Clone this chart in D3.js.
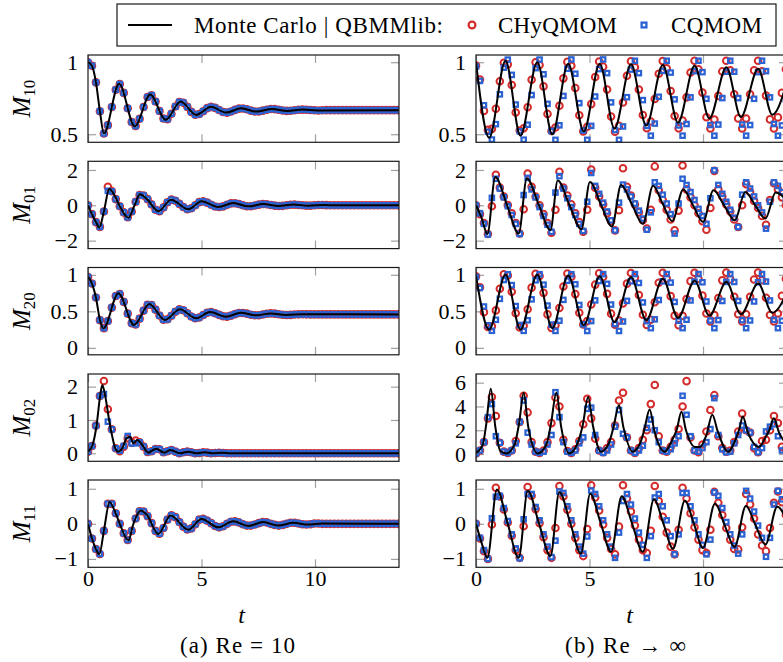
<!DOCTYPE html>
<html><head><meta charset="utf-8">
<script src="https://cdn.jsdelivr.net/npm/d3@7"></script>
<style>body{margin:0;background:#fff}svg{display:block}</style>
</head><body>
<svg id="chart" width="783" height="662"></svg>
<script>
// ---------- DATA ----------
const rowLabels = ['10','01','20','02','11'];
const xTicks = [0,5,10];
const legendLabels = ['Monte Carlo | QBMMlib:', 'CHyQMOM', 'CQMOM'];
const captions = ['(a) Re = 10', '(b) Re \u2192 \u221E'];

// sample times of the QBMMlib markers
const T = [0,0.175,0.35,0.525,0.7,0.875,1.05,1.225,1.4,1.575,1.75,1.925,2.1,2.275,2.45,2.625,2.8,2.975,3.15,3.325,3.5,3.675,3.85,4.025,4.2,4.375,4.55,4.725,4.9,5.075,5.25,5.425,5.6,5.775,5.95,6.125,6.3,6.475,6.65,6.825,7.0,7.175,7.35,7.525,7.7,7.875,8.05,8.225,8.4,8.575,8.75,8.925,9.1,9.275,9.45,9.625,9.8,9.975,10.15,10.325,10.5,10.675,10.85,11.025,11.2,11.375,11.55,11.725,11.9,12.075,12.25,12.425,12.6,12.775,12.95,13.125,13.3,13.475,13.65];

// ---- (a) Re = 10 : Monte Carlo key points ----
const mcA_M10_t = [0,0.175,0.35,0.525,0.7,1.37,2.06,2.74,3.42,4.08,4.76,5.42,6.08,6.75,7.42,8.1,8.78,9.45,10.1,13.7];
const mcA_M10_v = [1.0,0.975,0.86,0.66,0.505,0.85,0.555,0.775,0.60,0.727,0.634,0.69,0.65,0.68,0.657,0.675,0.662,0.671,0.665,0.667];
const mcA_M01_t = [0,0.175,0.35,0.5,0.7,0.94,1.15,1.4,1.78,2.05,2.29,2.6,3.1,3.66,4.42,5.0,5.74,6.4,7.06,7.72,8.38,9.05,9.7,10.4,11.0,13.7];
const mcA_M01_v = [0,-0.5,-0.95,-1.25,-0.35,0.94,0.6,-0.05,-0.7,0.0,0.62,0.35,-0.34,0.32,-0.23,0.23,-0.1,0.13,-0.06,0.075,-0.04,0.04,-0.02,0.02,0,0];
const mcA_M20_t = [0,0.175,0.35,0.525,0.68,1.34,2.03,2.7,3.39,4.05,4.76,5.37,6.08,6.73,7.4,8.05,8.72,9.45,13.7];
const mcA_M20_v = [0.975,0.88,0.69,0.38,0.266,0.748,0.312,0.60,0.38,0.528,0.404,0.49,0.427,0.48,0.445,0.472,0.45,0.46,0.458];
const mcA_M02_t = [0,0.2,0.38,0.53,0.63,0.75,0.93,1.07,1.22,1.34,1.51,1.7,1.85,2.0,2.17,2.39,2.65,3.0,3.35,3.64,4.05,4.42,4.79,5.15,5.5,5.9,6.3,13.7];
const mcA_M02_v = [0.05,0.25,0.85,1.7,2.05,1.75,1.0,0.5,0.12,0.05,0.15,0.45,0.5,0.3,0.4,0.25,0.02,0.14,0.02,0.1,0.0,0.05,0.0,0.03,0.0,0.015,0.0,0.0];
const mcA_M11_t = [0,0.175,0.35,0.5,0.7,0.95,1.2,1.4,1.78,2.0,2.32,2.6,3.1,3.64,4.42,5.0,5.74,6.4,7.06,7.72,8.38,9.05,9.7,10.3,13.7];
const mcA_M11_v = [0,-0.42,-0.72,-0.87,-0.2,0.62,0.33,0.0,-0.47,0.0,0.38,0.25,-0.29,0.24,-0.17,0.14,-0.1,0.07,-0.06,0.05,-0.05,0.03,-0.02,0.01,0];

// ---- (a) Re = 10 : QBMMlib markers (at times T) ----
const chyA_M10 = [1.0,0.975,0.86,0.66,0.505,0.563,0.689,0.809,0.848,0.787,0.68,0.585,0.557,0.607,0.689,0.758,0.771,0.727,0.661,0.609,0.605,0.642,0.692,0.724,0.719,0.69,0.655,0.635,0.64,0.66,0.681,0.69,0.683,0.668,0.654,0.65,0.658,0.669,0.678,0.679,0.673,0.664,0.658,0.658,0.664,0.67,0.675,0.674,0.67,0.665,0.662,0.663,0.666,0.67,0.671,0.67,0.668,0.666,0.665,0.666,0.667,0.667,0.667,0.667,0.667,0.667,0.667,0.667,0.667,0.667,0.667,0.667,0.667,0.667,0.667,0.667,0.667,0.667,0.667];
const cqA_M10 = chyA_M10;
const chyA_M01 = [0,-0.5,-0.95,-1.22,-0.35,1.05,0.8,0.35,-0.05,-0.4,-0.68,-0.35,0.2,0.58,0.55,0.35,0.05,-0.25,-0.33,-0.12,0.17,0.32,0.26,0.08,-0.1,-0.22,-0.17,0.0,0.18,0.22,0.15,0.03,-0.07,-0.1,-0.06,0.03,0.11,0.12,0.07,0.0,-0.05,-0.05,-0.01,0.04,0.07,0.06,0.02,-0.02,-0.04,-0.03,0.0,0.03,0.04,0.02,0.0,-0.02,-0.02,0.0,0.015,0.02,0.01,0,0,0,0,0,0,0,0,0,0,0,0,0,0,0,0,0,0];
const cqA_M01 = [0,-0.5,-0.95,-1.22,-0.35,0.82,0.78,0.35,-0.05,-0.4,-0.68,-0.35,0.2,0.58,0.55,0.35,0.05,-0.25,-0.33,-0.12,0.17,0.32,0.26,0.08,-0.1,-0.22,-0.17,0.0,0.18,0.22,0.15,0.03,-0.07,-0.1,-0.06,0.03,0.11,0.12,0.07,0.0,-0.05,-0.05,-0.01,0.04,0.07,0.06,0.02,-0.02,-0.04,-0.03,0.0,0.03,0.04,0.02,0.0,-0.02,-0.02,0.0,0.015,0.02,0.01,0,0,0,0,0,0,0,0,0,0,0,0,0,0,0,0,0,0];
const chyA_M20 = [0.97,0.88,0.69,0.38,0.27,0.367,0.551,0.71,0.738,0.63,0.469,0.339,0.321,0.40,0.51,0.59,0.587,0.523,0.442,0.385,0.391,0.439,0.495,0.527,0.514,0.474,0.43,0.405,0.416,0.449,0.481,0.49,0.474,0.452,0.433,0.427,0.441,0.462,0.478,0.478,0.468,0.454,0.446,0.447,0.457,0.467,0.472,0.469,0.461,0.453,0.45,0.452,0.456,0.459,0.46,0.459,0.458,0.458,0.458,0.458,0.458,0.458,0.458,0.458,0.458,0.458,0.458,0.458,0.458,0.458,0.458,0.458,0.458,0.458,0.458,0.458,0.458,0.458,0.458];
const cqA_M20 = chyA_M20;
const chyA_M02 = [0.05,0.22,0.83,1.72,2.17,1.32,0.72,0.15,0.06,0.2,0.45,0.32,0.38,0.33,0.2,0.04,0.06,0.13,0.12,0.03,0.06,0.1,0.05,0.0,0.03,0.05,0.03,0.0,0.01,0.03,0.02,0.0,0.01,0.015,0.01,0,0,0,0,0,0,0,0,0,0,0,0,0,0,0,0,0,0,0,0,0,0,0,0,0,0,0,0,0,0,0,0,0,0,0,0,0,0,0,0,0,0,0,0];
const cqA_M02 = [0.05,0.22,0.83,1.72,1.78,0.95,0.72,0.15,0.08,0.22,0.52,0.3,0.3,0.33,0.2,0.04,0.06,0.13,0.12,0.03,0.06,0.1,0.05,0.0,0.03,0.05,0.03,0.0,0.01,0.03,0.02,0.0,0.01,0.015,0.01,0,0,0,0,0,0,0,0,0,0,0,0,0,0,0,0,0,0,0,0,0,0,0,0,0,0,0,0,0,0,0,0,0,0,0,0,0,0,0,0,0,0,0,0];
const chyA_M11 = [0,-0.42,-0.72,-0.86,-0.2,0.57,0.57,0.3,0.0,-0.27,-0.46,-0.2,0.15,0.36,0.35,0.22,0.02,-0.2,-0.28,-0.12,0.12,0.24,0.19,0.05,-0.08,-0.16,-0.13,-0.01,0.12,0.14,0.09,0.02,-0.06,-0.1,-0.07,0.0,0.06,0.07,0.04,-0.01,-0.05,-0.05,-0.02,0.02,0.05,0.04,0.0,-0.03,-0.05,-0.03,0.0,0.03,0.03,0.01,-0.01,-0.02,-0.01,0.01,0.01,0,0,0,0,0,0,0,0,0,0,0,0,0,0,0,0,0,0,0,0];
const cqA_M11 = chyA_M11;

// ---- (b) Re -> infinity : Monte Carlo key points ----
const mcB_M10_t = [0,0.58,1.3,1.96,2.7,3.36,4.06,4.75,5.45,6.1,6.83,7.5,8.23,8.9,9.63,10.28,11.03,11.67,12.43,13.05,13.83];
const mcB_M10_v = [1.0,0.475,1.01,0.49,1.0,0.5,0.99,0.52,0.99,0.54,0.985,0.56,0.98,0.58,0.975,0.61,0.965,0.62,0.955,0.635,0.95];
const mcB_M01_t = [0,0.25,0.5,0.85,1.37,1.88,2.24,2.76,3.28,3.6,4.12,4.64,5.02,5.5,5.99,6.39,6.87,7.35,7.8,8.22,8.64,9.13,9.56,10.0,10.46,10.93,11.4,11.86,12.3,12.75,13.2,13.8];
const mcB_M01_v = [0,-0.72,-1.63,1.6,0.0,-1.6,1.52,0.05,-1.4,1.41,0.0,-1.35,1.32,0.05,-1.2,1.15,0.05,-1.05,1.1,0.1,-0.9,0.89,0.0,-0.94,0.85,0.0,-0.85,0.75,0.0,-0.75,0.72,0.1];
const mcB_M20_t = [0,0.58,1.3,1.96,2.7,3.36,4.06,4.75,5.45,6.1,6.83,7.5,8.23,8.9,9.63,10.28,11.03,11.67,12.43,13.05,13.83];
const mcB_M20_v = [0.99,0.25,1.0,0.25,1.0,0.27,0.99,0.31,0.98,0.35,0.965,0.38,0.945,0.41,0.92,0.44,0.9,0.46,0.88,0.48,0.86];
const mcB_M02_t = [0,0.3,0.45,0.65,0.85,1.07,1.33,1.7,1.9,2.1,2.3,2.72,3.1,3.3,3.54,3.75,4.1,4.45,4.7,4.94,5.15,5.5,5.85,6.05,6.3,6.5,6.9,7.25,7.42,7.65,7.85,8.31,8.65,8.85,9.05,9.25,9.65,9.87,10.15,10.41,10.65,11.1,11.45,11.6,11.75,11.98,12.46,12.75,12.92,13.12,13.35,13.8];
const mcB_M02_v = [0.1,0.8,2.5,5.5,2.3,0.25,0.05,0.8,2.6,5.15,2.3,0.05,0.8,2.5,5.15,2.3,0.05,0.8,2.4,4.8,2.4,0.2,0.9,2.2,4.1,2.2,0.2,1.0,2.1,3.75,2.0,0.2,1.2,2.1,3.55,2.0,0.6,0.6,1.6,3.3,1.9,0.2,1.3,2.1,3.15,1.8,0.6,1.4,2.0,3.0,1.8,0.6];
const mcB_M11_t = [0,0.25,0.5,0.92,1.4,1.88,2.28,2.78,3.28,3.67,4.15,4.62,5.03,5.49,5.95,6.42,6.88,7.35,7.84,8.26,8.68,9.2,9.6,10.0,10.53,10.96,11.39,11.89,12.32,12.75,13.27,13.8];
const mcB_M11_v = [0,-0.55,-0.97,0.98,0.0,-0.97,0.94,0.0,-0.92,0.91,0.03,-0.85,0.86,0.03,-0.8,0.79,0.0,-0.8,0.7,0.0,-0.71,0.66,0.0,-0.69,0.58,-0.05,-0.66,0.51,-0.05,-0.59,0.49,-0.1];

// ---- (b) Re -> infinity : QBMMlib markers (at times T) ----
const chyB_M10 = [0.976,0.88,0.662,0.53,0.537,0.677,0.868,0.996,0.985,0.842,0.651,0.526,0.541,0.687,0.878,1.0,0.98,0.832,0.641,0.523,0.547,0.698,0.888,1.002,0.975,0.821,0.632,0.52,0.552,0.709,0.897,1.005,0.969,0.81,0.623,0.518,0.558,0.72,0.906,1.007,0.965,0.81,0.634,0.542,0.588,0.745,0.92,1.008,0.958,0.8,0.626,0.541,0.595,0.756,0.928,1.01,0.951,0.789,0.618,0.54,0.602,0.766,0.936,1.01,0.944,0.778,0.61,0.54,0.609,0.777,0.943,1.01,0.937,0.768,0.603,0.54,0.617,0.787,0.951];
const cqB_M10 = [0.97,0.87,0.701,0.517,0.463,0.57,0.777,0.962,1.018,0.912,0.706,0.52,0.462,0.566,0.772,0.959,1.018,0.916,0.711,0.523,0.461,0.562,0.766,0.955,1.019,0.92,0.716,0.526,0.461,0.558,0.762,0.952,1.019,0.924,0.721,0.529,0.461,0.554,0.757,0.949,1.01,0.924,0.737,0.558,0.49,0.574,0.76,0.94,1.01,0.928,0.742,0.561,0.49,0.571,0.756,0.938,1.01,0.931,0.746,0.564,0.49,0.567,0.751,0.934,1.01,0.934,0.751,0.567,0.49,0.564,0.746,0.931,1.01,0.938,0.756,0.571,0.49,0.561,0.742];
const chyB_M01 = [0,-0.5,-1.0,-1.62,-0.05,1.72,1.0,0.5,0.02,-0.45,-1.0,-1.6,-0.22,1.8,1.05,0.5,0.0,-0.5,-1.0,-1.55,-0.25,1.9,1.0,0.55,0.05,-0.45,-0.95,-1.5,-0.25,2.02,1.0,0.5,0.05,-0.45,-0.9,-1.42,-0.28,2.1,1.05,0.55,0.05,-0.4,-0.85,-1.32,-0.25,2.2,0.85,0.3,-0.25,-0.8,-1.42,-0.3,2.25,0.9,0.45,0.0,-0.45,-0.9,-1.38,-0.15,1.95,0.9,0.5,0.05,-0.35,-0.8,-1.23,0.0,1.2,0.75,0.25,-0.15,-0.6,-1.1,0.3,1.25,0.9,0.45,0.0];
const cqB_M01 = [0,-0.45,-1.05,-1.65,0.42,1.5,0.95,0.45,-0.05,-0.55,-1.05,-1.62,0.58,1.55,0.9,0.45,-0.1,-0.6,-1.1,-1.5,0.72,1.65,0.95,0.4,-0.1,-0.55,-1.05,-1.45,0.2,1.83,1.1,0.65,0.15,-0.35,-0.85,-1.42,0.15,1.17,0.9,0.5,0.1,-0.3,-0.75,-1.38,-0.4,1.3,1.1,0.6,0.1,-0.5,-1.6,0.1,1.5,1.15,0.75,0.3,-0.2,-0.6,-1.05,0.4,1.98,1.15,0.65,0.2,-0.25,-0.7,-1.23,0.6,1.3,0.95,0.5,0.0,-0.4,-1.32,0.2,1.3,1.1,0.75,0.3];
const chyB_M20 = [0.98,0.83,0.489,0.285,0.295,0.513,0.809,1.008,0.992,0.769,0.473,0.279,0.302,0.529,0.824,1.013,0.984,0.753,0.458,0.274,0.31,0.545,0.84,1.018,0.975,0.736,0.481,0.319,0.366,0.593,0.865,1.022,0.97,0.739,0.468,0.316,0.374,0.609,0.879,1.025,0.961,0.723,0.454,0.313,0.384,0.624,0.892,1.027,0.951,0.708,0.441,0.311,0.438,0.668,0.913,1.029,0.947,0.715,0.471,0.36,0.448,0.683,0.924,1.03,0.937,0.70,0.46,0.36,0.459,0.698,0.935,1.03,0.926,0.685,0.45,0.36,0.47,0.712,0.946];
const cqB_M20 = [0.97,0.82,0.566,0.309,0.234,0.384,0.671,0.929,1.007,0.859,0.572,0.313,0.233,0.378,0.664,0.925,1.008,0.865,0.579,0.318,0.232,0.372,0.657,0.92,1.008,0.871,0.587,0.322,0.231,0.367,0.65,0.916,1.009,0.876,0.593,0.327,0.231,0.361,0.643,0.911,1.01,0.888,0.622,0.366,0.27,0.39,0.655,0.911,1.01,0.893,0.629,0.371,0.27,0.385,0.649,0.907,1.01,0.898,0.635,0.375,0.27,0.38,0.642,0.902,1.01,0.902,0.642,0.38,0.27,0.375,0.635,0.898,1.01,0.907,0.649,0.385,0.27,0.371,0.629];
const chyB_M02 = [0.05,0.3,1.0,3.0,4.8,3.2,0.95,0.2,0.1,0.3,1.1,2.7,4.9,3.5,1.0,0.2,0.1,0.3,1.0,2.6,4.75,4.0,1.2,0.25,0.1,0.4,1.1,2.5,4.65,3.0,1.3,0.3,0.15,0.5,1.0,2.4,4.5,5.15,1.4,0.3,0.1,0.5,1.2,2.0,4.2,5.8,1.5,0.3,0.2,0.6,1.2,2.1,4.0,6.13,1.4,0.3,0.15,0.8,1.9,3.7,4.95,1.5,0.5,0.2,0.3,1.0,1.9,3.4,2.0,1.8,0.5,0.15,1.1,1.2,2.0,3.2,2.6,0.6,0.4];
const cqB_M02 = [0.05,0.3,1.0,3.1,4.2,1.5,0.95,0.2,0.1,0.3,0.9,2.7,4.5,1.8,0.8,0.2,0.1,0.2,0.8,1.6,5.2,3.1,1.0,0.2,0.1,0.3,0.9,1.4,3.8,3.9,1.6,0.3,0.1,0.3,0.8,2.3,3.7,1.7,1.4,0.3,0.1,0.3,0.7,2.2,2.9,2.0,1.0,0.3,0.2,0.4,0.9,1.5,4.9,3.3,1.5,0.3,0.2,0.5,1.0,2.1,4.7,1.6,0.4,0.15,0.2,0.9,1.6,2.4,2.0,1.8,0.6,0.15,0.5,1.9,2.3,2.5,1.5,0.3,0.4];
const chyB_M11 = [0,-0.42,-0.78,-1.0,-0.02,1.03,0.78,0.41,0.04,-0.34,-0.75,-0.97,-0.07,1.05,0.8,0.42,0.02,-0.38,-0.75,-0.97,-0.12,1.08,0.78,0.4,0.0,-0.4,-0.75,-0.92,-0.15,1.1,0.75,0.38,-0.02,-0.4,-0.72,-0.87,-0.08,1.1,0.72,0.35,-0.05,-0.45,-0.75,-0.83,-0.2,1.08,0.65,0.2,-0.25,-0.65,-0.87,-0.17,1.03,0.72,0.3,-0.1,-0.45,-0.75,-0.83,-0.17,0.91,0.6,0.25,-0.12,-0.45,-0.72,-0.73,-0.1,0.85,0.55,0.15,-0.3,-0.62,-0.78,-0.12,0.6,0.92,0.62,0.25];
const cqB_M11 = [0,-0.4,-0.75,-1.0,0.16,0.77,0.8,0.45,0.08,-0.3,-0.7,-0.98,0.13,0.85,0.85,0.48,0.1,-0.3,-0.65,-0.95,-0.48,0.92,0.88,0.5,0.1,-0.3,-0.65,-0.85,-0.36,0.95,0.85,0.5,0.1,-0.3,-0.65,-0.97,-0.25,0.65,0.85,0.55,0.15,-0.25,-0.6,-0.97,-0.35,0.75,0.85,0.5,0.1,-0.35,-0.87,-0.3,0.88,0.88,0.5,0.1,-0.3,-0.6,-0.87,-0.45,0.9,0.8,0.45,0.05,-0.3,-0.62,-0.85,-0.3,0.94,0.72,0.35,-0.05,-0.4,-0.94,-0.4,0.55,0.94,0.7,0.4];

// axis ranges and ticks
const yDomA = [[0.444,1.05],[-2.45,2.49],[-0.095,1.1],[-0.24,2.38],[-1.24,1.25]];
const yDomB = [[0.444,1.05],[-2.45,2.49],[-0.095,1.1],[-0.61,6.73],[-1.24,1.25]];
const yTicksA = [[0.5,1],[-2,0,2],[0,0.5,1],[0,1,2],[-1,0,1]];
const yTicksB = [[0.5,1],[-2,0,2],[0,0.5,1],[0,2,4,6],[-1,0,1]];

// ---------- DRAWING ----------
const FONT = '"Liberation Serif","Times New Roman",serif';
const RED = '#d42b2b', BLUE = '#2b62d3';
const FS = 22;
const svg = d3.select('#chart').attr('font-family', FONT);
const xScales = [d3.scaleLinear().domain([0,13.7]).range([88,399]),
                 d3.scaleLinear().domain([0,13.7]).range([476,787])];
const tops = [55,161.3,267.5,374,480];
const PH = 87.3, TL = 8;
const fmt = v => (v < 0 ? '\u2212' + Math.abs(v) : String(v));

const panels = [
  {r:0,c:0,mt:mcA_M10_t,mv:mcA_M10_v,chy:chyA_M10,cq:cqA_M10},
  {r:1,c:0,mt:mcA_M01_t,mv:mcA_M01_v,chy:chyA_M01,cq:cqA_M01},
  {r:2,c:0,mt:mcA_M20_t,mv:mcA_M20_v,chy:chyA_M20,cq:cqA_M20},
  {r:3,c:0,mt:mcA_M02_t,mv:mcA_M02_v,chy:chyA_M02,cq:cqA_M02},
  {r:4,c:0,mt:mcA_M11_t,mv:mcA_M11_v,chy:chyA_M11,cq:cqA_M11},
  {r:0,c:1,mt:mcB_M10_t,mv:mcB_M10_v,chy:chyB_M10,cq:cqB_M10},
  {r:1,c:1,mt:mcB_M01_t,mv:mcB_M01_v,chy:chyB_M01,cq:cqB_M01},
  {r:2,c:1,mt:mcB_M20_t,mv:mcB_M20_v,chy:chyB_M20,cq:cqB_M20},
  {r:3,c:1,mt:mcB_M02_t,mv:mcB_M02_v,chy:chyB_M02,cq:cqB_M02},
  {r:4,c:1,mt:mcB_M11_t,mv:mcB_M11_v,chy:chyB_M11,cq:cqB_M11}
];

const defs = svg.append('defs');

function styleAxis(g, showText) {
  g.attr('font-family', FONT).attr('font-size', FS);
  g.select('.domain').remove();
  g.selectAll('.tick line').attr('stroke', '#a0a0a0').attr('stroke-width', 1.2);
  g.selectAll('.tick text').attr('fill', '#000');
  if (!showText) g.selectAll('.tick text').remove();
}

panels.forEach((p, i) => {
  const x = xScales[p.c];
  const dom = p.c === 0 ? yDomA[p.r] : yDomB[p.r];
  const ticks = p.c === 0 ? yTicksA[p.r] : yTicksB[p.r];
  const y0 = tops[p.r], y1 = tops[p.r] + PH;
  const y = d3.scaleLinear().domain(dom).range([y1, y0]);
  const [x0, x1] = x.range();
  const g = svg.append('g');

  defs.append('clipPath').attr('id', 'clip' + i)
    .append('rect').attr('x', x0).attr('y', y0).attr('width', x1 - x0).attr('height', PH);

  g.append('g').attr('transform', `translate(${x0},0)`)
    .call(d3.axisLeft(y).tickValues(ticks).tickSize(-TL).tickPadding(10).tickFormat(fmt))
    .call(a => styleAxis(a, true));
  g.append('g').attr('transform', `translate(${x1},0)`)
    .call(d3.axisRight(y).tickValues(ticks).tickSize(-TL).tickFormat(''))
    .call(a => styleAxis(a, false));
  g.append('g').attr('transform', `translate(0,${y0})`)
    .call(d3.axisTop(x).tickValues(xTicks).tickSize(-TL).tickFormat(''))
    .call(a => styleAxis(a, false));
  g.append('g').attr('transform', `translate(0,${y1})`)
    .call(d3.axisBottom(x).tickValues(xTicks).tickSize(-TL).tickPadding(3).tickFormat(fmt))
    .call(a => styleAxis(a, p.r === 4));

  const dg = g.append('g').attr('clip-path', `url(#clip${i})`);
  const chyPts = T.map((t, k) => [t, p.chy[k]]);
  const cqPts = T.map((t, k) => [t, p.cq[k]]);
  dg.append('g').selectAll('circle').data(chyPts).join('circle')
    .attr('cx', d => x(d[0])).attr('cy', d => y(d[1])).attr('r', 3.3)
    .attr('fill', 'none').attr('stroke', RED).attr('stroke-width', 2);
  dg.append('g').selectAll('rect').data(cqPts).join('rect')
    .attr('x', d => x(d[0]) - 2.2).attr('y', d => y(d[1]) - 2.2)
    .attr('width', 4.4).attr('height', 4.4)
    .attr('fill', 'none').attr('stroke', BLUE).attr('stroke-width', 2.2);
  const mcPts = p.mt.map((t, k) => [t, p.mv[k]]);
  dg.append('path').datum(mcPts)
    .attr('d', d3.line().x(d => x(d[0])).y(d => y(d[1])).curve(d3.curveMonotoneX))
    .attr('fill', 'none').attr('stroke', '#000').attr('stroke-width', 2);

  g.append('rect').attr('x', x0).attr('y', y0).attr('width', x1 - x0).attr('height', PH)
    .attr('fill', 'none').attr('stroke', '#1a1a1a').attr('stroke-width', 1.2);

  if (p.c === 0) {
    const lab = svg.append('text')
      .attr('transform', `translate(30,${(y0 + y1) / 2}) rotate(-90)`)
      .attr('text-anchor', 'middle').attr('font-size', 25);
    lab.append('tspan').attr('font-style', 'italic').text('M');
    lab.append('tspan').attr('font-size', 17).attr('dy', 5).text(rowLabels[p.r]);
  }
});

// x axis titles and captions
[0,1].forEach(c => {
  const x = xScales[c];
  const xc = (x.range()[0] + x.range()[1]) / 2;
  svg.append('text').attr('x', xc - 2).attr('y', 623).attr('text-anchor', 'middle')
    .attr('font-size', 24).attr('font-style', 'italic').text('t');
});
svg.append('text').attr('x', 180).attr('y', 653).attr('font-size', 23)
  .attr('textLength', 115).attr('lengthAdjust', 'spacing').text(captions[0]);
svg.append('text').attr('x', 565).attr('y', 653).attr('font-size', 23)
  .attr('textLength', 121).attr('lengthAdjust', 'spacing').text(captions[1]);

// legend
const lg = svg.append('g');
lg.append('rect').attr('x', 117).attr('y', 4).attr('width', 659).attr('height', 42)
  .attr('fill', '#fff').attr('stroke', '#1a1a1a').attr('stroke-width', 1.2);
lg.append('line').attr('x1', 128).attr('x2', 172).attr('y1', 25).attr('y2', 25)
  .attr('stroke', '#000').attr('stroke-width', 2);
lg.append('text').attr('x', 194).attr('y', 32.5).attr('font-size', 23)
  .attr('textLength', 249).attr('lengthAdjust', 'spacing').text(legendLabels[0]);
lg.append('circle').attr('cx', 472).attr('cy', 25).attr('r', 3.4)
  .attr('fill', 'none').attr('stroke', RED).attr('stroke-width', 2.2);
lg.append('text').attr('x', 498).attr('y', 32.5).attr('font-size', 23)
  .attr('textLength', 119).attr('lengthAdjust', 'spacing').text(legendLabels[1]);
lg.append('rect').attr('x', 644 - 2.4).attr('y', 25 - 2.4).attr('width', 4.8).attr('height', 4.8)
  .attr('fill', 'none').attr('stroke', BLUE).attr('stroke-width', 2.3);
lg.append('text').attr('x', 671).attr('y', 32.5).attr('font-size', 23)
  .attr('textLength', 91).attr('lengthAdjust', 'spacing').text(legendLabels[2]);
</script>
</body></html>
